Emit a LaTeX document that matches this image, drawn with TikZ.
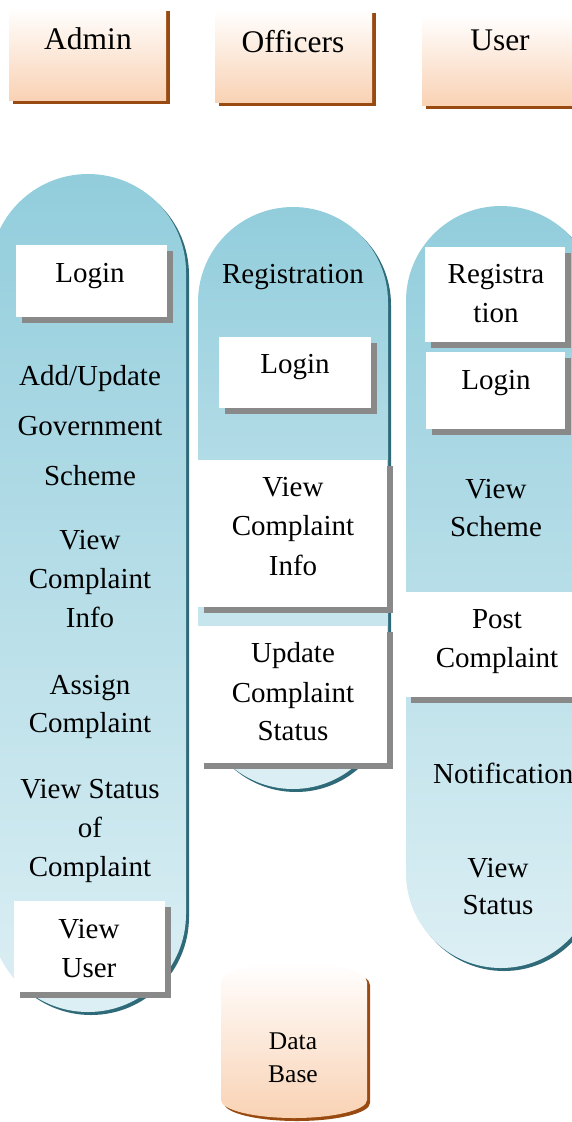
\documentclass[tikz,border=0pt]{standalone}
\usepackage{fontspec}
\setmainfont{Liberation Serif}
\usetikzlibrary{shadows}
\definecolor{peach}{HTML}{F9D2B4}
\definecolor{brownsh}{HTML}{984A10}
\definecolor{pilltop}{HTML}{92CDDC}
\definecolor{pillbot}{HTML}{DCEFF4}
\definecolor{pillsh}{HTML}{2F6A79}
\definecolor{graysh}{HTML}{898989}
\begin{document}
\begin{tikzpicture}[x=1pt,y=-1pt,
  rolebox/.style={rectangle, anchor=north west, inner sep=0pt, outer sep=0pt,
    top color=white, bottom color=peach,
    general shadow={fill=brownsh, shadow xshift=3.5pt, shadow yshift=-3.5pt}},
  wbox/.style={rectangle, anchor=north west, inner sep=0pt, outer sep=0pt, fill=white,
    general shadow={fill=graysh, shadow xshift=5.5pt, shadow yshift=-5.5pt}},
  pill/.style={top color=pilltop, bottom color=pillbot},
  pillshadow/.style={fill=pillsh},
  roletxt/.style={font=\fontsize{31.5}{38}\selectfont, inner sep=0pt, anchor=base},
  txt/.style={font=\fontsize{29}{35}\selectfont, inner sep=0pt, anchor=base},
  dbtxt/.style={font=\fontsize{25.5}{31}\selectfont, inner sep=0pt, anchor=base}]
\useasboundingbox (0,0) rectangle (572,1122);
\clip (0,0) rectangle (572,1122);

% ---------- role boxes ----------
\node[rolebox, minimum width=157pt, minimum height=93pt] (admin) at (9,7) {};
\node[rolebox, minimum width=157pt, minimum height=93pt] (officers) at (215,9) {};
\node[rolebox, minimum width=170pt, minimum height=90pt] (user) at (422,15) {};
\node[roletxt] (admint) at (88,49) {Admin};
\node[roletxt] (officerst) at (293,52) {Officers};
\node[roletxt] (usert) at (500,50) {User};

% ---------- pills: shadows ----------
\begin{scope}[shift={(3,3)}]
\fill[pillshadow] (-10,272) arc[start angle=180,end angle=360,radius=98] -- (186,914)
   arc[start angle=0,end angle=180,radius=98] -- cycle;
\fill[pillshadow] (198,302) arc[start angle=180,end angle=360,radius=95] -- (388,694)
   arc[start angle=0,end angle=180,radius=95] -- cycle;
\fill[pillshadow] (406,301) arc[start angle=180,end angle=360,radius=95] -- (596,873)
   arc[start angle=0,end angle=180,radius=95] -- cycle;
\end{scope}
% ---------- pills ----------
\shade[pill] (-10,272) arc[start angle=180,end angle=360,radius=98] -- (186,914)
   arc[start angle=0,end angle=180,radius=98] -- cycle;
\shade[pill] (198,302) arc[start angle=180,end angle=360,radius=95] -- (388,694)
   arc[start angle=0,end angle=180,radius=95] -- cycle;
\shade[pill] (406,301) arc[start angle=180,end angle=360,radius=95] -- (596,873)
   arc[start angle=0,end angle=180,radius=95] -- cycle;

% ---------- Admin column ----------
\node[wbox, minimum width=151pt, minimum height=72pt] (alogin) at (16,245) {};
\node[txt] (alogint) at (90,282) {Login};
\node[txt] (aadd1) at (90,385) {Add/Update};
\node[txt] (aadd2) at (90,435) {Government};
\node[txt] (aadd3) at (90,485) {Scheme};
\node[txt] (avci1) at (90,549) {View};
\node[txt] (avci2) at (90,588) {Complaint};
\node[txt] (avci3) at (90,627) {Info};
\node[txt] (aas1) at (90,694) {Assign};
\node[txt] (aas2) at (90,732) {Complaint};
\node[txt] (avs1) at (90,798) {View Status};
\node[txt] (avs2) at (90,837) {of};
\node[txt] (avs3) at (90,876) {Complaint};
\node[wbox, minimum width=151pt, minimum height=91pt] (avu) at (14,901) {};
\node[txt] (avu1) at (89,938) {View};
\node[txt] (avu2) at (89,977) {User};

% ---------- Officers column ----------
\node[txt] (oreg) at (293,283) {Registration};
\node[wbox, minimum width=152pt, minimum height=71pt] (ologin) at (219,337) {};
\node[txt] (ologint) at (295,373) {Login};
\node[wbox, minimum width=189pt, minimum height=147pt] (ovci) at (198,460) {};
\node[txt] (ovci1) at (293,496) {View};
\node[txt] (ovci2) at (293,535) {Complaint};
\node[txt] (ovci3) at (293,575) {Info};
\node[wbox, minimum width=189pt, minimum height=137pt] (oucs) at (198,626) {};
\node[txt] (oucs1) at (293,662) {Update};
\node[txt] (oucs2) at (293,702) {Complaint};
\node[txt] (oucs3) at (293,740) {Status};

% ---------- User column ----------
\node[wbox, minimum width=140pt, minimum height=95pt] (ureg) at (425,247) {};
\node[txt] (ureg1) at (496,283) {Registra};
\node[txt] (ureg2) at (496,322) {tion};
\node[wbox, minimum width=139pt, minimum height=77pt] (ulogin) at (426,352) {};
\node[txt] (ulogint) at (496,389) {Login};
\node[txt] (uvs1) at (496,498) {View};
\node[txt] (uvs2) at (496,536) {Scheme};
\node[wbox, minimum width=190pt, minimum height=105pt] (upost) at (405,592) {};
\node[txt] (upost1) at (497,628) {Post};
\node[txt] (upost2) at (497,667) {Complaint};
\node[txt, anchor=base west] (unotif) at (433,783) {Notification};
\node[txt] (uvst1) at (498,877) {View};
\node[txt] (uvst2) at (498,914) {Status};

% ---------- Data Base ----------
\fill[brownsh] (224,985) arc[start angle=180,end angle=360,x radius=73,y radius=20] -- (370,1103)
   arc[start angle=0,end angle=180,x radius=73,y radius=18] -- cycle;
\shade[top color=white, bottom color=peach] (221,982) arc[start angle=180,end angle=360,x radius=73,y radius=20] -- (367,1100)
   arc[start angle=0,end angle=180,x radius=73,y radius=18] -- cycle;
\node[dbtxt] (db1) at (293,1049) {Data};
\node[dbtxt] (db2) at (293,1082) {Base};
\end{tikzpicture}
\end{document}
